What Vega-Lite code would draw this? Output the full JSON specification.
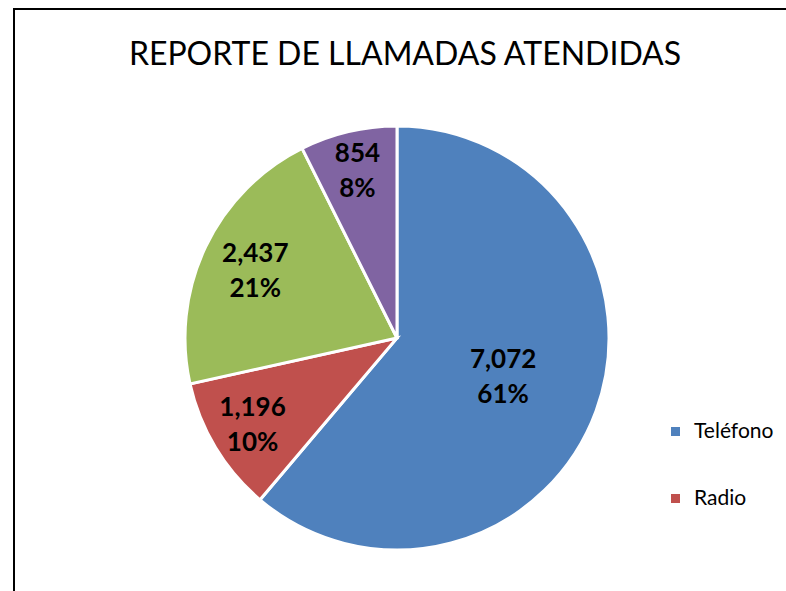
{
  "$schema": "https://vega.github.io/schema/vega-lite/v6.json",
  "autosize": "none",
  "width": 800,
  "height": 658,
  "padding": {"left": 14, "top": 9, "right": 0, "bottom": 0},
  "background": "white",
  "view": {"stroke": "black", "strokeWidth": 2},
  "title": {
    "text": "REPORTE DE LLAMADAS ATENDIDAS",
    "font": "Lato",
    "fontSize": 32,
    "fontWeight": "normal",
    "color": "black",
    "anchor": "middle",
    "dx": -9,
    "offset": -88,
    "baseline": "alphabetic"
  },
  "data": {
    "values": [
      {"cat": "Teléfono", "value": 7072, "pct": 0.61, "idx": 1},
      {"cat": "Radio", "value": 1196, "pct": 0.10, "idx": 2},
      {"cat": "Personal", "value": 2437, "pct": 0.21, "idx": 3},
      {"cat": "Correo", "value": 854, "pct": 0.08, "idx": 4}
    ]
  },
  "encoding": {
    "theta": {"field": "value", "type": "quantitative", "stack": true},
    "order": {"field": "idx", "type": "quantitative"}
  },
  "layer": [
    {
      "mark": {"type": "arc", "outerRadius": 212, "stroke": "white", "strokeWidth": 3, "x": {"expr": "width/2 - 17"}},
      "encoding": {
        "color": {
          "field": "cat",
          "type": "nominal",
          "sort": ["Teléfono", "Radio", "Personal", "Correo"],
          "scale": {
            "domain": ["Teléfono", "Radio", "Personal", "Correo"],
            "range": ["#4F81BD", "#C0504D", "#9BBB59", "#8064A2"]
          },
          "legend": {
            "title": null,
            "values": ["Teléfono", "Radio"],
            "orient": "none",
            "legendX": 651,
            "legendY": 412,
            "symbolType": "square",
            "symbolSize": 81,
            "symbolStrokeWidth": 0,
            "labelFont": "Lato",
            "labelFontSize": 21,
            "labelColor": "black",
            "labelOffset": 8,
            "rowPadding": 45
          }
        }
      }
    },
    {
      "mark": {"type": "text", "font": "Lato", "fontSize": 26, "fontWeight": "bold", "color": "black", "dy": -17, "x": {"expr": "width/2 - 17"}},
      "encoding": {
        "radius": {"field": "value", "type": "quantitative", "scale": {"type": "linear", "domain": [854, 7072], "range": [172, 113], "zero": false}},
        "text": {"field": "value", "type": "quantitative", "format": ","}
      }
    },
    {
      "mark": {"type": "text", "font": "Lato", "fontSize": 26, "fontWeight": "bold", "color": "black", "dy": 18, "x": {"expr": "width/2 - 17"}},
      "encoding": {
        "radius": {"field": "value", "type": "quantitative", "scale": {"type": "linear", "domain": [854, 7072], "range": [172, 113], "zero": false}},
        "text": {"field": "pct", "type": "quantitative", "format": ".0%"}
      }
    }
  ]
}
